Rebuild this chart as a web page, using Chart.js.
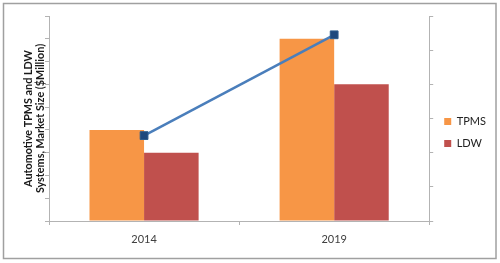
<!DOCTYPE html>
<html>
<head>
<meta charset="utf-8">
<script src="https://cdn.jsdelivr.net/npm/chart.js@4.4.1/dist/chart.umd.min.js"></script>
<style>
  html, body { margin: 0; padding: 0; background: #fff; }
  #wrap { width: 500px; height: 263px; }
</style>
</head>
<body>
<div id="wrap"><canvas id="chart" width="500" height="263"></canvas></div>
<script>
const years = ["2014", "2019"];
const tpms = [4, 8];
const ldw = [3, 6];
const trend = [2.5, 5.45];

const axisGray = "#b3b3b3";
const fontFamily = "Lato, 'Liberation Sans', sans-serif";

// outer frame + white background
const frame = {
	id: "frame",
	beforeDraw(chart) {
		const c = chart.ctx;
		c.save();
		c.fillStyle = "#fff";
		c.fillRect(0, 0, chart.width, chart.height);
		c.restore();
	},
	afterDraw(chart) {
		const c = chart.ctx;
		c.save();
		c.strokeStyle = "#a0a0a0";
		c.lineWidth = 1.5;
		c.strokeRect(3.5, 3.5, 492.5, 255);
		c.restore();
	},
};

const ctx = document.getElementById("chart").getContext("2d");
const myChart = new Chart(ctx, {
	type: "bar",
	data: {
		labels: years,
		datasets: [
			{
				type: "line",
				label: "Trend",
				data: trend,
				yAxisID: "y1",
				borderColor: "#4a7ebb",
				borderWidth: 2.5,
				pointStyle: "rect",
				pointRadius: 5.5,
				pointBackgroundColor: "#1f497d",
				pointBorderColor: "#2d5c8c",
				pointBorderWidth: 1,
				order: 0,
			},
			{
				label: "TPMS",
				data: tpms,
				backgroundColor: "#f79646",
				yAxisID: "y",
				order: 1,
			},
			{
				label: "LDW",
				data: ldw,
				backgroundColor: "#c0504d",
				yAxisID: "y",
				order: 1,
			},
		],
	},
	options: {
		responsive: false,
		animation: false,
		layout: { padding: { top: 16, left: 0, right: 4, bottom: 14 } },
		datasets: {
			bar: { categoryPercentage: 0.574, barPercentage: 1.0 },
		},
		scales: {
			x: {
				grid: {
					drawOnChartArea: false,
					drawTicks: true,
					tickLength: 4,
					color: axisGray,
				},
				border: { color: axisGray },
				ticks: {
					color: "#404040",
					font: { family: fontFamily, size: 11 },
					padding: 8,
				},
				afterFit: (s) => { s.height = 28; },
			},
			y: {
				position: "left",
				min: 0,
				max: 9,
				ticks: { stepSize: 1, display: false },
				grid: {
					drawOnChartArea: false,
					drawTicks: true,
					tickLength: 4,
					color: axisGray,
				},
				border: { color: axisGray },
				title: {
					display: true,
					text: ["Automotive TPMS and LDW", "Systems, Market Size ($Million)"],
					color: "#1a1a1a",
					font: { family: fontFamily, size: 10.8, weight: "bold", lineHeight: 1.08 },
					padding: { top: 23, bottom: 0 },
				},
				afterFit: (s) => { s.width = 49; },
			},
			y1: {
				position: "right",
				min: 0,
				max: 6,
				ticks: { stepSize: 1, display: false },
				grid: {
					drawOnChartArea: false,
					drawTicks: true,
					tickLength: 4,
					color: axisGray,
				},
				border: { color: axisGray },
				afterFit: (s) => { s.width = 4; },
			},
		},
		plugins: {
			legend: {
				position: "right",
				labels: {
					boxWidth: 7,
					boxHeight: 7,
					padding: 11,
					color: "#222",
					font: { family: fontFamily, size: 11 },
					filter: (item) => item.text !== "Trend",
				},
			},
			tooltip: { enabled: false },
		},
	},
	plugins: [frame],
});
</script>
</body>
</html>
